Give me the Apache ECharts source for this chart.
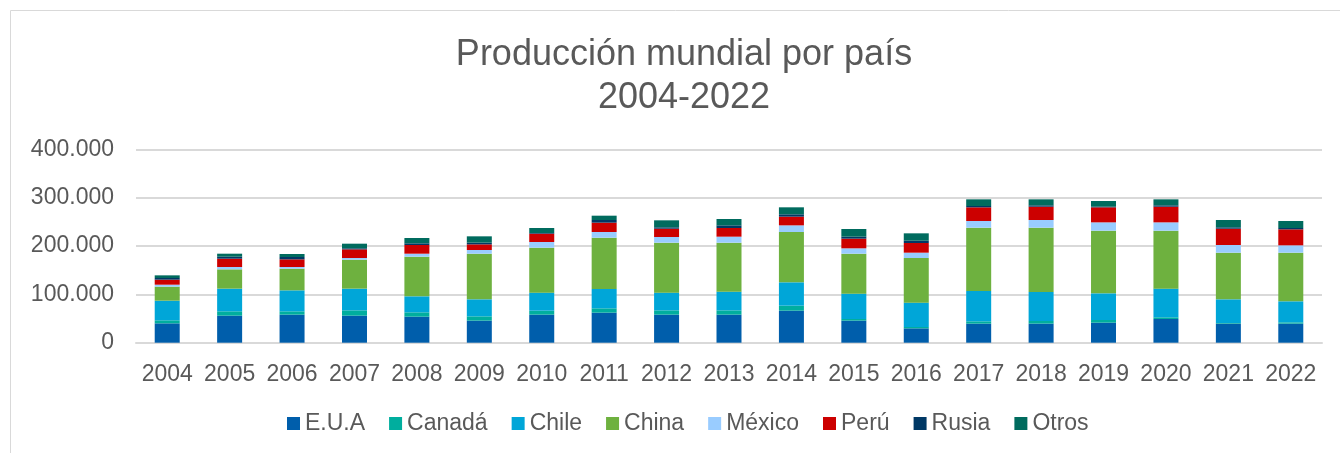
<!DOCTYPE html>
<html>
<head>
<meta charset="utf-8">
<script src="https://cdn.jsdelivr.net/npm/echarts@6/dist/echarts.min.js"></script>
<style>
  html, body { margin: 0; padding: 0; background: #fff; }
  #chart { width: 1340px; height: 453px; }
</style>
</head>
<body>
<div id="chart"></div>
<script>
const years = ["2004", "2005", "2006", "2007", "2008", "2009", "2010", "2011", "2012", "2013",
  "2014", "2015", "2016", "2017", "2018", "2019", "2020", "2021", "2022"];

// toneladas por país
const eua    = [40000, 55900, 58000, 55900, 53800, 45600, 58000, 62100, 58000, 58000, 66200, 45600, 29700, 39400, 39400, 41400, 49000, 39400, 39400];
const canada = [6300, 9000, 6900, 11000, 9000, 8900, 8200, 9000, 8900, 8900, 10400, 3400, 2800, 4800, 5500, 5500, 3500, 1300, 2700];
const chile  = [40600, 46900, 43400, 44900, 33100, 35200, 37300, 40000, 36600, 38600, 48300, 52400, 50300, 62700, 60000, 55200, 59300, 49000, 43500];
const china  = [29000, 39900, 44800, 59900, 82000, 94400, 93000, 106100, 103400, 101400, 104100, 82700, 92400, 131000, 133000, 129600, 119900, 96500, 100600];
const mexico = [4100, 4900, 3500, 3500, 6200, 7600, 11800, 11800, 11700, 12400, 13700, 11100, 11000, 13800, 15900, 17200, 17200, 15900, 15200];
const peru   = [10400, 17200, 15800, 17900, 18000, 11700, 17200, 19300, 17200, 17900, 18000, 20000, 20000, 28300, 27500, 31100, 32400, 33700, 33100];
const rusia  = [3400, 4100, 4800, 2100, 3400, 3500, 1400, 5500, 2800, 5500, 4800, 4100, 4800, 2700, 2800, 1300, 2800, 2800, 2700];
const otros  = [5500, 6200, 6300, 9600, 11000, 13100, 10300, 8900, 14500, 13100, 14500, 15900, 15200, 13800, 12400, 11800, 12400, 15200, 14500];

const seriesNames = ["E.U.A", "Canadá", "Chile", "China", "México", "Perú", "Rusia", "Otros"];
const seriesData = [eua, canada, chile, china, mexico, peru, rusia, otros];
const colors = ["#005EAB", "#00AE9E", "#00A6D8", "#6EB13F", "#99CCFF", "#CC0000", "#003865", "#006B5E"];

const fmt = (v) => String(v).replace(/\B(?=(\d{3})+(?!\d))/g, ".");

const chart = echarts.init(document.getElementById("chart"));

const option = {
  animation: false,
  color: colors,
  textStyle: { fontFamily: "Liberation Sans, Arial, sans-serif" },
  graphic: [
    {
      type: "rect",
      shape: { x: 10.5, y: 10.5, width: 1340, height: 460 },
      style: { fill: "none", stroke: "#D9D9D9", lineWidth: 1 },
      silent: true,
    },
  ],
  title: {
    text: "Producción mundial por país\n2004-2022",
    left: 679,
    top: 29,
    textAlign: "center",
    textStyle: {
      color: "#595959",
      fontSize: 36,
      fontWeight: "normal",
      lineHeight: 43,
    },
  },
  legend: {
    bottom: 13,
    left: 282,
    itemWidth: 13,
    itemHeight: 13,
    itemGap: 24,
    icon: "rect",
    textStyle: { color: "#595959", fontSize: 23 },
    data: seriesNames,
  },
  grid: {
    left: 136,
    right: 18,
    top: 149.3,
    bottom: 110.3,
    containLabel: false,
  },
  xAxis: {
    type: "category",
    data: years,
    axisLine: { lineStyle: { color: "#D9D9D9", width: 2 } },
    axisTick: { show: false },
    axisLabel: { color: "#595959", fontSize: 23, margin: 20, interval: 0 },
  },
  yAxis: {
    type: "value",
    min: 0,
    max: 400000,
    interval: 100000,
    axisLine: { show: false },
    axisTick: { show: false },
    axisLabel: { color: "#595959", fontSize: 23, margin: 22, formatter: fmt },
    splitLine: { lineStyle: { color: "#D9D9D9", width: 2 } },
  },
  series: seriesNames.map((name, i) => ({
    name: name,
    type: "bar",
    stack: "total",
    barWidth: 25,
    data: seriesData[i],
    itemStyle: { color: colors[i] },
  })),
};

chart.setOption(option);
</script>
</body>
</html>
